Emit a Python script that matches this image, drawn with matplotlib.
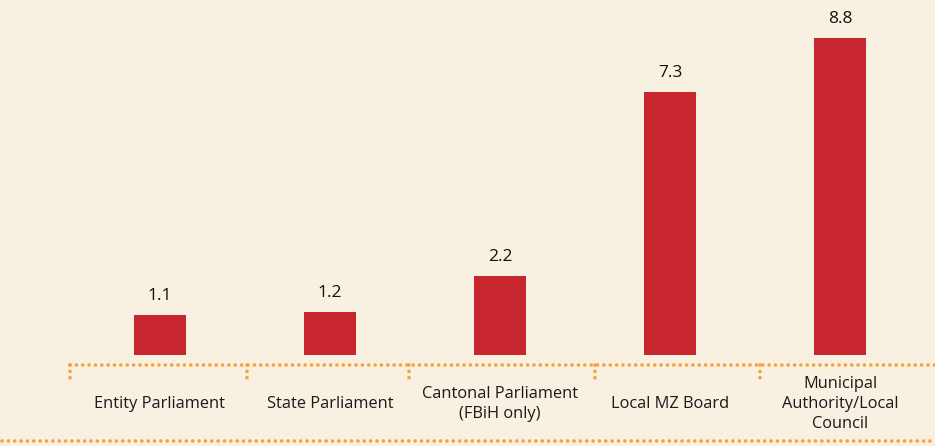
import matplotlib.pyplot as plt
from matplotlib.lines import Line2D

categorias = ["Entity Parliament", "State Parliament", "Cantonal Parliament\n(FBiH only)",
              "Local MZ Board", "Municipal\nAuthority/Local\nCouncil"]
valores = [1.1, 1.2, 2.2, 7.3, 8.8]
rotulos = ["1.1", "1.2", "2.2", "7.3", "8.8"]

fundo = "#f8f0e0"
vermelho = "#c8262f"
laranja = "#f7a03a"

plt.rcParams["font.family"] = ["Open Sans", "DejaVu Sans"]

W, H = 935, 446
fig = plt.figure(figsize=(W / 100, H / 100), dpi=100, facecolor=fundo)
ax = fig.add_axes([75 / W, 1 - 355 / H, 850 / W, (355 - 13) / H])
ax.set_facecolor(fundo)

x = range(len(valores))
barras = ax.bar(x, valores, width=0.31, color=vermelho)
ax.bar_label(barras, labels=rotulos, padding=8, fontsize=12.5, color="#111111")

ax.set_xlim(-0.5, 4.5)
ax.set_ylim(0, 9.5)
ax.axis("off")

# rótulos das categorias
for i, c in enumerate(categorias):
    px = 75 + (i + 0.5) * 170
    fig.text(px / W, 1 - 404 / H, c, ha="center", va="center",
             fontsize=11.8, color="#1a1a1a", linespacing=1.3)

# linhas pontilhadas
estilo = dict(color=laranja, linewidth=2.6, linestyle=(0, (0.01, 1.75)),
              dash_capstyle="round", solid_capstyle="round")

def linha(xs, ys):
    fig.add_artist(Line2D([v / W for v in xs], [1 - v / H for v in ys], **estilo))

linha([70, 935], [365, 365])
linha([2, 935], [441, 441])
for sx in [70, 247, 409, 595, 760]:
    linha([sx, sx], [365, 382])

fig.savefig("out.png", dpi=100, facecolor=fundo)
